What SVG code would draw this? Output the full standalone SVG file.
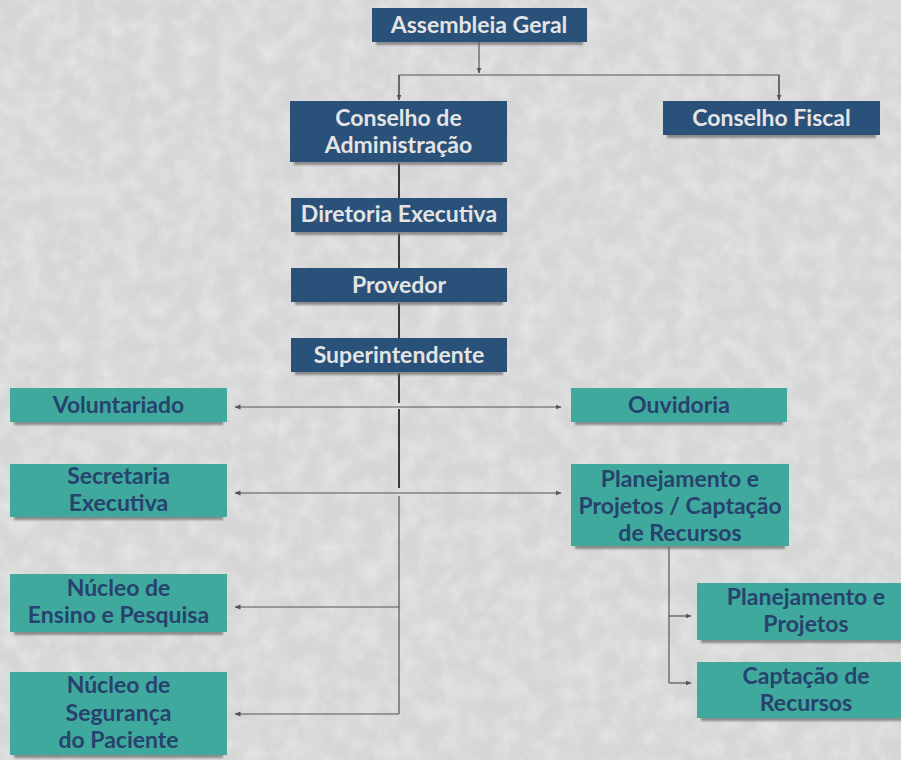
<svg xmlns="http://www.w3.org/2000/svg" width="901" height="760" viewBox="0 0 901 760">
<defs>
<style>
.navy{fill:#2a5179;}
.teal{fill:#3fa99d;}
.shadow{fill:#6f6f6f;opacity:0.75;filter:url(#blur);}
.tn{font-family:Lato,"Open Sans","Liberation Sans",sans-serif;font-weight:bold;font-size:23px;fill:#e4e4e4;text-anchor:middle;}
.tt{font-family:Lato,"Open Sans","Liberation Sans",sans-serif;font-weight:bold;font-size:23px;fill:#27426d;text-anchor:middle;}
.thick{stroke:#3a3a3a;stroke-width:2;fill:none;}
.thin{stroke:#555;stroke-width:1.2;fill:none;}
</style>
<filter id="blur" x="-5%" y="-100%" width="110%" height="300%"><feGaussianBlur stdDeviation="1"/></filter>
<filter id="noise" x="0" y="0" width="100%" height="100%">
<feTurbulence type="fractalNoise" baseFrequency="0.05" numOctaves="3" seed="4"/>
<feColorMatrix type="matrix" values="0 0 0 0 1  0 0 0 0 1  0 0 0 0 1  0 0 0 1 -0.35"/>
</filter>
<marker id="arr" viewBox="0 0 6 6" refX="5.5" refY="3" markerWidth="6" markerHeight="6" markerUnits="userSpaceOnUse" orient="auto">
<path d="M0,0.5 L6,3 L0,5.5 z" fill="#555"/>
</marker>
</defs>
<rect width="901" height="760" fill="#d6d6d6"/>
<rect width="901" height="760" filter="url(#noise)" opacity="0.65"/>

<g id="connectors">
<path class="thin" d="M479,42 V73" marker-end="url(#arr)"/>
<path class="thin" d="M399,100 V75 H779 V100" />
<path class="thin" d="M399,75 V100" marker-end="url(#arr)"/>
<path class="thin" d="M779,75 V100" marker-end="url(#arr)"/>
<path class="thick" d="M399,163 V198"/>
<path class="thick" d="M399,233 V268"/>
<path class="thick" d="M399,303 V338"/>
<path class="thick" d="M399,373 V403"/>
<path class="thin" d="M399,407 H235" marker-end="url(#arr)"/>
<path class="thin" d="M399,407 H561" marker-end="url(#arr)"/>
<path class="thick" d="M399,409 V488"/>
<path class="thin" d="M399,493 H235" marker-end="url(#arr)"/>
<path class="thin" d="M399,493 H561" marker-end="url(#arr)"/>
<path class="thin" d="M399,496 V714"/>
<path class="thin" d="M399,607 H235" marker-end="url(#arr)"/>
<path class="thin" d="M399,714 H235" marker-end="url(#arr)"/>
<path class="thin" d="M669,547 V683"/>
<path class="thin" d="M669,616 H691" marker-end="url(#arr)"/>
<path class="thin" d="M669,683 H691" marker-end="url(#arr)"/>
</g>

<g id="assembleia-geral">
<rect class="shadow" x="376" y="40" width="207" height="5"/>
<rect class="navy" x="372" y="8" width="215" height="34"/>
<text class="tn" x="479" y="33">Assembleia Geral</text>
</g>
<g id="conselho-administracao">
<rect class="shadow" x="294" y="160" width="209" height="5"/>
<rect class="navy" x="290" y="101" width="217" height="61"/>
<text class="tn" x="398.5" y="126">Conselho de</text>
<text class="tn" x="398.5" y="153">Administração</text>
</g>
<g id="conselho-fiscal">
<rect class="shadow" x="667" y="133" width="209" height="5"/>
<rect class="navy" x="663" y="101" width="217" height="34"/>
<text class="tn" x="771.5" y="126">Conselho Fiscal</text>
</g>
<g id="diretoria-executiva">
<rect class="shadow" x="295" y="230" width="208" height="5"/>
<rect class="navy" x="291" y="198" width="216" height="34"/>
<text class="tn" x="399" y="222">Diretoria Executiva</text>
</g>
<g id="provedor">
<rect class="shadow" x="295" y="300" width="208" height="5"/>
<rect class="navy" x="291" y="268" width="216" height="34"/>
<text class="tn" x="399" y="293">Provedor</text>
</g>
<g id="superintendente">
<rect class="shadow" x="295" y="370" width="208" height="5"/>
<rect class="navy" x="291" y="338" width="216" height="34"/>
<text class="tn" x="399" y="363">Superintendente</text>
</g>

<g id="voluntariado">
<rect class="shadow" x="14" y="420" width="209" height="5"/>
<rect class="teal" x="10" y="388" width="217" height="34"/>
<text class="tt" x="118.5" y="413">Voluntariado</text>
</g>
<g id="secretaria-executiva">
<rect class="shadow" x="14" y="515" width="209" height="5"/>
<rect class="teal" x="10" y="464" width="217" height="53"/>
<text class="tt" x="118.5" y="484">Secretaria</text>
<text class="tt" x="118.5" y="511">Executiva</text>
</g>
<g id="nucleo-ensino-pesquisa">
<rect class="shadow" x="14" y="630" width="209" height="5"/>
<rect class="teal" x="10" y="574" width="217" height="58"/>
<text class="tt" x="118.5" y="596">Núcleo de</text>
<text class="tt" x="118.5" y="623">Ensino e Pesquisa</text>
</g>
<g id="nucleo-seguranca-paciente">
<rect class="shadow" x="14" y="753" width="209" height="5"/>
<rect class="teal" x="10" y="672" width="217" height="83"/>
<text class="tt" x="118.5" y="693">Núcleo de</text>
<text class="tt" x="118.5" y="721">Segurança</text>
<text class="tt" x="118.5" y="748">do Paciente</text>
</g>
<g id="ouvidoria">
<rect class="shadow" x="575" y="420" width="208" height="5"/>
<rect class="teal" x="571" y="388" width="216" height="34"/>
<text class="tt" x="679" y="413">Ouvidoria</text>
</g>
<g id="planejamento-captacao">
<rect class="shadow" x="575" y="544" width="210" height="5"/>
<rect class="teal" x="571" y="464" width="218" height="82"/>
<text class="tt" x="680" y="487">Planejamento e</text>
<text class="tt" x="680" y="514">Projetos / Captação</text>
<text class="tt" x="680" y="541">de Recursos</text>
</g>
<g id="planejamento-projetos">
<rect class="shadow" x="701" y="638" width="210" height="5"/>
<rect class="teal" x="697" y="583" width="218" height="57"/>
<text class="tt" x="806" y="605">Planejamento e</text>
<text class="tt" x="806" y="632">Projetos</text>
</g>
<g id="captacao-recursos">
<rect class="shadow" x="701" y="716" width="210" height="5"/>
<rect class="teal" x="697" y="662" width="218" height="56"/>
<text class="tt" x="806" y="684">Captação de</text>
<text class="tt" x="806" y="711">Recursos</text>
</g>
</svg>
